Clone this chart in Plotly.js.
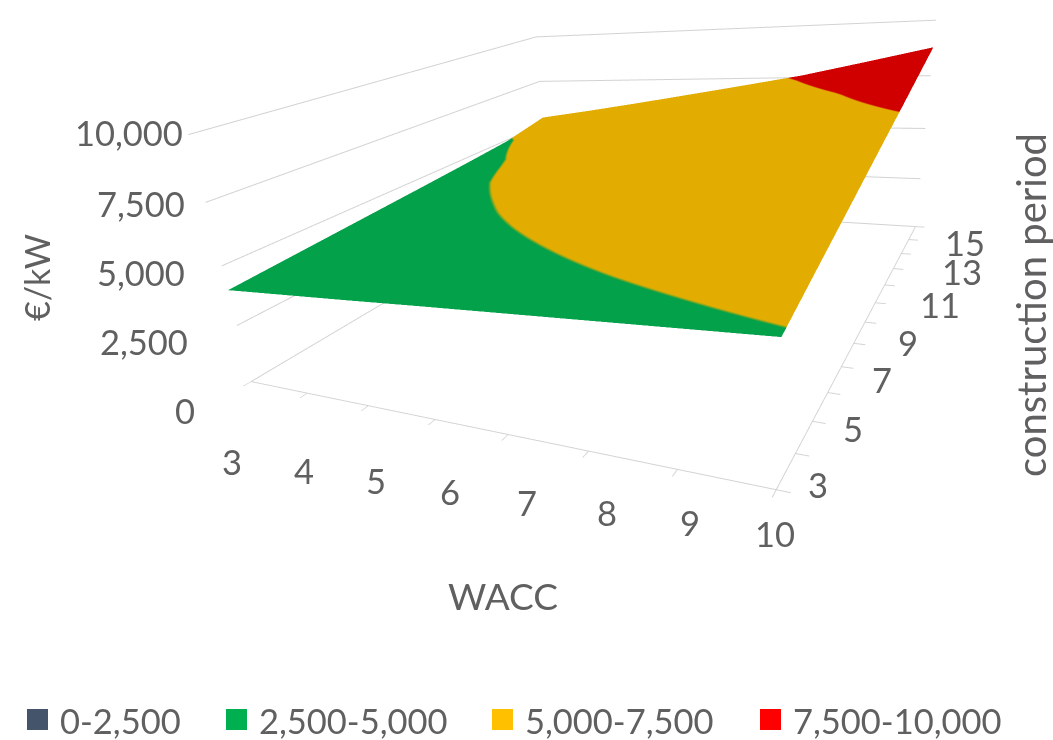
<!DOCTYPE html>
<html>
<head>
<meta charset="utf-8">
<script src="https://cdn.plot.ly/plotly-3.0.1.min.js"></script>
<style>html,body{margin:0;padding:0;background:#fff}#chart{width:1053px;height:740px}</style>
</head>
<body>
<div id="chart"></div>
<script>
var W = 1053, H = 740;

// Axis values and labels
var wacc = [3,4,5,6,7,8,9,10];
var periodTicks = [3,4,5,6,7,8,9,10,11,12,13,14,15];
var periodLabels = [3,5,7,9,11,13,15];
var costTicks = [0,2500,5000,7500,10000];
var costLabels = ["0","2,500","5,000","7,500","10,000"];

// Cost in EUR/kW for each construction period, one value per WACC step
var periods = [3,5,7,9,11,13,15];
var cost3  = [4000,4130,4260,4400,4530,4660,4790,4920];
var cost5  = [4180,4380,4580,4780,4980,5180,5370,5570];
var cost7  = [4360,4640,4900,5170,5430,5680,5940,6210];
var cost9  = [4540,4880,5200,5520,5840,6170,6510,6860];
var cost11 = [4730,5060,5440,5830,6230,6640,7060,7500];
var cost13 = [4940,5340,5760,6190,6620,7080,7560,8150];
var cost15 = [5390,5790,6220,6670,7130,7600,8190,8800];

var legendLabels = ["0-2,500","2,500-5,000","5,000-7,500","7,500-10,000"];
var legendColors = ["#44546A","#00B050","#FFC000","#FF0000"];

// Pixel offsets of the tick labels from their axis positions
var waccOffsets = [[-19,-80],[-3,-77],[8,-75],[15,-72],[19,-68],[18,-61],[13,-53],[-1,-44]];
var periodOffsets = [[42,5],[41,-7],[41,-13],[43,-20],[55,-20],[61,-18],[49,-16]];
var costOffsets = [[-54,-29],[-47,-16],[-35,-7],[-19,-1],[-3,2]];

var textColor = "#606060";
var lineColor = "#D2D2D2";

// Stepped colours at the 5,000 and 7,500 thresholds
var cMin = 4000, cMax = 9000;
function stop(v){ return (v - cMin) / (cMax - cMin); }
var scale = [[0,"#02A14A"],[stop(5000),"#02A14A"],[stop(5000),"#E2AC00"],[stop(7500),"#E2AC00"],[stop(7500),"#D00000"],[1,"#D00000"]];

function tickNote(x, y, z, text, anchor, offset){
  return {x:x, y:y, z:z, text:String(text), showarrow:false, xanchor:anchor, yanchor:"middle",
    xshift:offset[0], yshift:offset[1], font:{family:"Lato", size:34.5, color:textColor}};
}
var notes = [];
wacc.forEach(function(v,i){ notes.push(tickNote(v,3,0,v,"center",waccOffsets[i])); });
periodLabels.forEach(function(v,i){ notes.push(tickNote(10,v,0,v,"center",periodOffsets[i])); });
costTicks.forEach(function(v,i){ notes.push(tickNote(3,3,v,costLabels[i],"right",costOffsets[i])); });

function paperNote(x, y, text, size, angle, anchor){
  return {xref:"paper", yref:"paper", x:x/W, y:1-y/H, text:text, showarrow:false, xanchor:anchor||"center",
    yanchor:"middle", textangle:angle||0, font:{family:"Lato", size:size, color:textColor}};
}
var anns = [
  paperNote(503,595,"WACC",37),
  paperNote(37,278,"€/kW",34,-90),
  paperNote(1031,305,"construction period",40,-90)
];

// Legend row along the bottom edge
var legendStarts = [27,226,492,760], shapes = [];
legendLabels.forEach(function(label,i){
  shapes.push({type:"rect", xref:"paper", yref:"paper", x0:legendStarts[i]/W, x1:(legendStarts[i]+21)/W,
    y0:1-730/H, y1:1-709/H, fillcolor:legendColors[i], line:{width:0}});
  anns.push(paperNote(legendStarts[i]+31,720,label,34.5,0,"left"));
});

var plain = {title:{text:""}, showticklabels:false, zeroline:false, showbackground:false, showspikes:false};
var ticked = {showgrid:false, showline:true, linecolor:lineColor, linewidth:2, ticks:"outside", ticklen:8, tickcolor:lineColor, tickwidth:2};

var layout = {
  width:W, height:H, margin:{l:0,r:0,t:0,b:0}, paper_bgcolor:"#fff", showlegend:false,
  annotations:anns, shapes:shapes,
  scene:{
    domain:{x:[0,1], y:[0,1]},
    aspectmode:"manual",
    aspectratio:{x:1, y:1.2108, z:0.4656},
    annotations:notes,
    camera:{
      eye:{x:0.7655, y:-1.6384, z:0.4765},
      center:{x:0.3663, y:-1.0011, z:0.1145},
      up:{x:-0.0840, y:0.3375, z:1}
    },
    xaxis:Object.assign({}, plain, ticked, {range:[3,10], tickvals:wacc}),
    yaxis:Object.assign({}, plain, ticked, {range:[3,15], tickvals:periodTicks}),
    zaxis:Object.assign({}, plain, {range:[0,10000], tickvals:costTicks, showgrid:true, gridcolor:lineColor, gridwidth:2, showline:false, ticks:""})
  }
};

var data = [{
  type:"surface", x:wacc, y:periods,
  z:[cost3,cost5,cost7,cost9,cost11,cost13,cost15],
  cmin:cMin, cmax:cMax, colorscale:scale, showscale:false, hoverinfo:"skip",
  lighting:{ambient:1, diffuse:0, specular:0, roughness:1, fresnel:0}
}];

Plotly.newPlot("chart", data, layout, {displayModeBar:false});
</script>
</body>
</html>
